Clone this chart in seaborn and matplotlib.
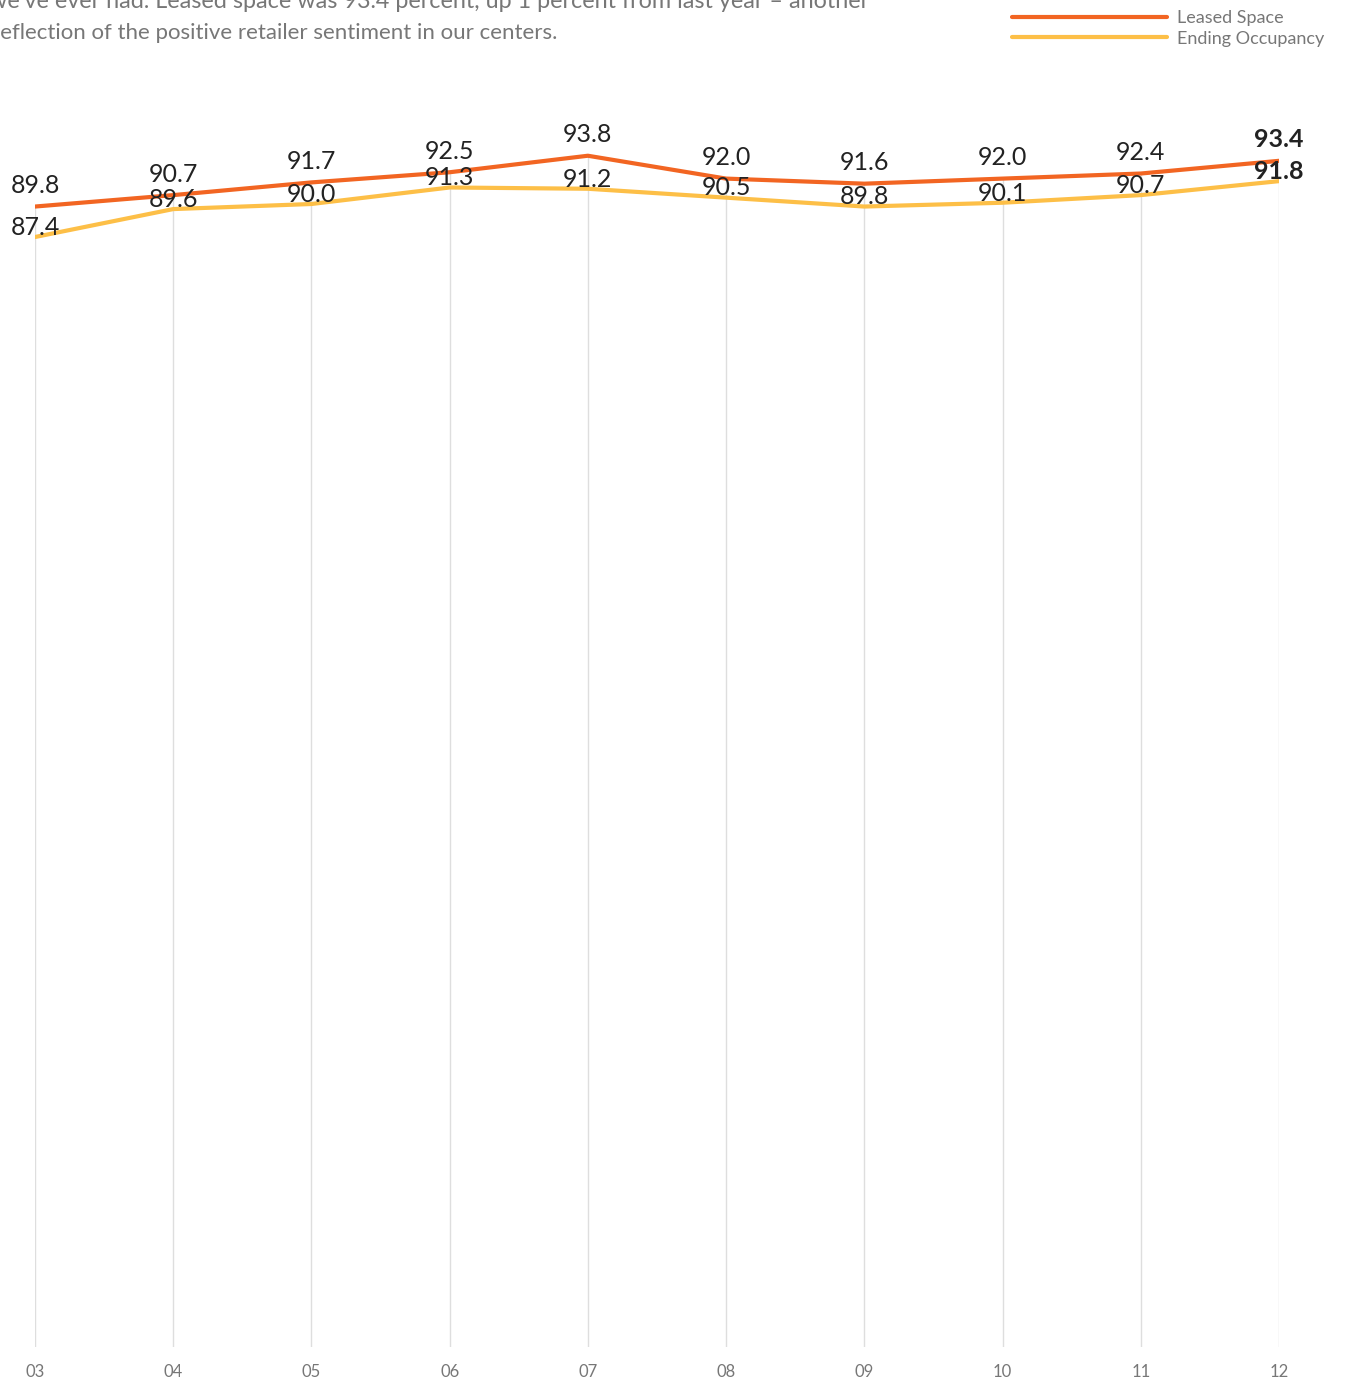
import matplotlib
matplotlib.use("Agg")
import matplotlib.pyplot as plt
import seaborn as sns
import pandas as pd

# Year labels and the two occupancy series (percent)
years = ["03", "04", "05", "06", "07", "08", "09", "10", "11", "12"]
leased_space = [89.8, 90.7, 91.7, 92.5, 93.8, 92.0, 91.6, 92.0, 92.4, 93.4]
ending_occupancy = [87.4, 89.6, 90.0, 91.3, 91.2, 90.5, 89.8, 90.1, 90.7, 91.8]
series_names = ["Leased Space", "Ending Occupancy"]

intro_lines = [
    "we've ever had. Leased space was 93.4 percent, up 1 percent from last year \u2013 another",
    "reflection of the positive retailer sentiment in our centers.",
]

ORANGE = "#F26522"
YELLOW = "#FDBF47"
GRAY_TEXT = "#777777"
FONT = ["Lato", "DejaVu Sans"]

sns.set_style("white")
plt.rcParams["font.family"] = FONT

W, H = 1351, 1381
fig = plt.figure(figsize=(W / 100, H / 100), dpi=100)
ax = fig.add_axes([35 / W, (H - 1347) / H, (1279 - 35) / W, 1270 / H])

x_idx = list(range(len(years)))
df = pd.DataFrame({
    "x": x_idx * 2,
    "value": leased_space + ending_occupancy,
    "series": [series_names[0]] * len(years) + [series_names[1]] * len(years),
})

# Drop lines from the baseline up to the leased-space value
ax.vlines(x_idx, 0, leased_space, color="#dedede", lw=1.0, zorder=1)

sns.lineplot(data=df, x="x", y="value", hue="series",
             palette={series_names[0]: ORANGE, series_names[1]: YELLOW},
             linewidth=3.0, ax=ax, legend=False, zorder=3)

# Value labels
last = len(years) - 1
for i, (a, b) in enumerate(zip(leased_space, ending_occupancy)):
    bold = "bold" if i == last else "normal"
    ax.annotate(f"{a:.1f}", (i, a), xytext=(0, 15), textcoords="offset points",
                ha="center", va="center", fontsize=18, color="#222222",
                fontweight=bold, zorder=4)
    ax.annotate(f"{b:.1f}", (i, b), xytext=(0, 7), textcoords="offset points",
                ha="center", va="center", fontsize=18, color="#222222",
                fontweight=bold, zorder=4)

ax.set_xlim(0, last)
ax.set_ylim(0, 100)
ax.set_xticks(x_idx)
ax.set_xticklabels(years, color=GRAY_TEXT, fontsize=12)
ax.set_yticks([])
ax.tick_params(axis="x", length=0, pad=12)
ax.set_xlabel("")
ax.set_ylabel("")
for s in ax.spines.values():
    s.set_visible(False)
ax.patch.set_alpha(0)

# Legend
handles = [plt.Line2D([], [], color=ORANGE, lw=3.0),
           plt.Line2D([], [], color=YELLOW, lw=3.0)]
fig.legend(handles, series_names, loc="upper left",
           bbox_to_anchor=(1012 / W, 1 - 10 / H), frameon=False,
           fontsize=13, labelcolor=GRAY_TEXT, handlelength=8.6,
           handletextpad=0.55, labelspacing=0.25, borderpad=0.0,
           borderaxespad=0.0)

# Intro paragraph, running off the top-left edge
fig.text(-11 / W, 1 - 1 / H, intro_lines[0], ha="left", va="center",
         fontsize=16.8, color=GRAY_TEXT)
fig.text(-8 / W, 1 - 33 / H, intro_lines[1], ha="left", va="center",
         fontsize=16, color=GRAY_TEXT)

fig.savefig("out.png", dpi=100)
